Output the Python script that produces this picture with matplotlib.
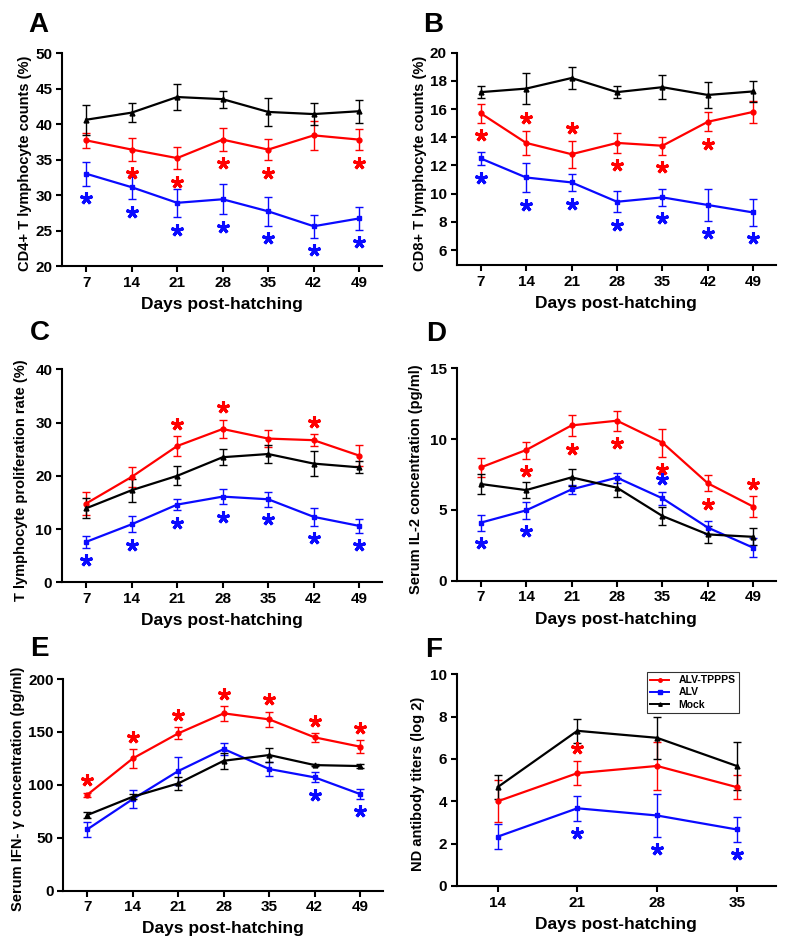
import matplotlib
matplotlib.use("Agg")
import matplotlib.pyplot as plt
from matplotlib.lines import Line2D
from matplotlib.transforms import offset_copy

plt.rcParams['font.family'] = ['Liberation Sans', 'DejaVu Sans']
plt.rcParams['font.weight'] = 'bold'
plt.rcParams['axes.labelweight'] = 'bold'

# Days post-hatching
days = [7, 14, 21, 28, 35, 42, 49]
days_f = [14, 21, 28, 35]

# A - CD4+ T lymphocyte counts (%)
a_tppps = [37.7, 36.4, 35.2, 37.8, 36.4, 38.4, 37.8]
a_tppps_err = [1.1, 1.6, 1.6, 1.6, 1.5, 2.0, 1.5]
a_alv = [33.0, 31.1, 28.9, 29.4, 27.7, 25.6, 26.7]
a_alv_err = [1.7, 1.7, 2.0, 2.1, 2.0, 1.6, 1.6]
a_mock = [40.6, 41.6, 43.8, 43.5, 41.7, 41.4, 41.8]
a_mock_err = [2.1, 1.3, 1.8, 1.2, 2.0, 1.5, 1.6]
a_tppps_star = [0, -1, -1, -1, -1, 0, -1]
a_alv_star = [-1, -1, -1, -1, -1, -1, -1]

# B - CD8+ T lymphocyte counts (%)
b_tppps = [15.7, 13.6, 12.8, 13.6, 13.4, 15.1, 15.8]
b_tppps_err = [0.67, 0.85, 0.95, 0.7, 0.65, 0.67, 0.8]
b_alv = [12.5, 11.15, 10.8, 9.43, 9.74, 9.2, 8.67]
b_alv_err = [0.47, 1.05, 0.63, 0.73, 0.6, 1.1, 0.95]
b_mock = [17.2, 17.45, 18.2, 17.2, 17.55, 17.0, 17.25]
b_mock_err = [0.45, 1.1, 0.75, 0.4, 0.85, 0.9, 0.75]
b_tppps_star = [-1, 1, 1, -1, -1, -1, 0]
b_alv_star = [-1, -1, -1, -1, -1, -1, -1]

# C - T lymphocyte proliferation rate (%)
c_tppps = [14.8, 19.8, 25.6, 28.8, 27.0, 26.7, 23.8]
c_tppps_err = [2.2, 1.9, 1.8, 1.7, 1.55, 1.1, 2.0]
c_alv = [7.6, 10.9, 14.6, 16.1, 15.6, 12.3, 10.6]
c_alv_err = [1.1, 1.5, 1.1, 1.4, 1.4, 1.7, 1.3]
c_mock = [13.9, 17.3, 20.0, 23.5, 24.1, 22.3, 21.6]
c_mock_err = [1.9, 2.2, 1.8, 1.5, 1.7, 2.3, 1.1]
c_tppps_star = [0, 0, 1, 1, 0, 1, 0]
c_alv_star = [-1, -1, -1, -1, -1, -1, -1]

# D - Serum IL-2 concentration (pg/ml)
d_tppps = [8.0, 9.23, 10.97, 11.3, 9.75, 6.88, 5.23]
d_tppps_err = [0.65, 0.6, 0.75, 0.7, 0.98, 0.57, 0.73]
d_alv = [4.1, 4.97, 6.45, 7.28, 5.82, 3.75, 2.33]
d_alv_err = [0.57, 0.6, 0.32, 0.35, 0.47, 0.47, 0.67]
d_mock = [6.83, 6.4, 7.3, 6.57, 4.57, 3.27, 3.1]
d_mock_err = [0.7, 0.55, 0.6, 0.65, 0.63, 0.62, 0.6]
d_tppps_star = [0, -1, -1, -1, -1, -1, 1]
d_alv_star = [-1, -1, 0, 0, 1, 0, 0]

# E - Serum IFN-gamma concentration (pg/ml)
e_tppps = [90.7, 125.0, 148.7, 167.6, 161.9, 144.9, 136.1]
e_tppps_err = [2.0, 8.8, 5.7, 6.9, 7.4, 4.0, 6.3]
e_alv = [58.0, 86.6, 113.1, 133.9, 115.0, 107.1, 91.3]
e_alv_err = [7.0, 8.7, 13.4, 5.5, 6.3, 4.7, 4.6]
e_mock = [71.5, 88.8, 101.4, 122.8, 128.2, 118.7, 117.8]
e_mock_err = [3.0, 2.5, 6.3, 7.4, 6.3, 1.0, 2.0]
e_tppps_star = [1, 1, 1, 1, 1, 1, 1]
e_alv_star = [0, 0, 0, 0, 0, -1, -1]

# F - ND antibody titers (log 2)
f_tppps = [4.0, 5.33, 5.67, 4.67]
f_tppps_err = [1.0, 0.58, 1.15, 0.58]
f_alv = [2.33, 3.67, 3.33, 2.67]
f_alv_err = [0.58, 0.58, 1.0, 0.58]
f_mock = [4.67, 7.33, 7.0, 5.67]
f_mock_err = [0.57, 0.58, 1.0, 1.15]
f_tppps_star = [0, 1, 0, 0]
f_alv_star = [0, -1, -1, -1]

RED = '#ff0000'
BLUE = '#0a0aff'
BLACK = '#000000'

fig = plt.figure(figsize=(7.87, 9.5), dpi=100)


def draw_panel(rect, x, tppps, tppps_err, alv, alv_err, mock, mock_err,
               tppps_star, alv_star, ylim, yticks, xlim, ylabel, letter,
               letter_pos, ylabel_x):
    ax = fig.add_axes(rect)
    series = [(tppps, tppps_err, RED, 'o'),
              (alv, alv_err, BLUE, 's'),
              (mock, mock_err, BLACK, '^')]
    for vals, errs, col, mk in series:
        ax.errorbar(x, vals, yerr=errs, color=col, marker=mk, markersize=3.5,
                    linewidth=1.6, elinewidth=1.0, capsize=3.2, capthick=1.0)

    # significance stars just past the error bar end
    for vals, errs, flags, col in [(tppps, tppps_err, tppps_star, RED),
                                   (alv, alv_err, alv_star, BLUE)]:
        for xi, v, e, s in zip(x, vals, errs, flags):
            if s == 0:
                continue
            tr = offset_copy(ax.transData, fig=fig, y=s * 9.0, units='points')
            ax.plot(xi, v + s * e, marker=(5, 2, 0), markersize=9,
                    markeredgewidth=2.2, color=col, transform=tr,
                    clip_on=False)

    ax.set_xlim(*xlim)
    ax.set_ylim(*ylim)
    ax.set_xticks(x)
    ax.set_yticks(yticks)
    ax.spines['top'].set_visible(False)
    ax.spines['right'].set_visible(False)
    ax.spines['left'].set_linewidth(1.5)
    ax.spines['bottom'].set_linewidth(1.5)
    ax.tick_params(width=1.5, length=4, labelsize=11, pad=3)
    for t in ax.get_xticklabels() + ax.get_yticklabels():
        t.set_fontweight('bold')
    ax.set_xlabel('Days post-hatching', fontsize=12.5, fontweight='bold')
    ax.xaxis.set_label_coords(0.5, -0.145)
    ax.set_ylabel(ylabel, fontsize=10.5, fontweight='bold')
    ax.yaxis.set_label_coords(ylabel_x, 0.48)
    fig.text(letter_pos[0], letter_pos[1], letter, fontsize=20,
             fontweight='bold', ha='left', va='baseline')
    return ax


xlim_main = (3.3, 52.5)

draw_panel([0.0788, 0.72, 0.4066, 0.2242], days, a_tppps, a_tppps_err,
           a_alv, a_alv_err, a_mock, a_mock_err, a_tppps_star, a_alv_star,
           (20, 50), range(20, 51, 5), xlim_main,
           'CD4+ T lymphocyte counts (%)', 'A', (0.0356, 0.9663), -0.094)

draw_panel([0.5803, 0.7211, 0.4057, 0.2235], days, b_tppps, b_tppps_err,
           b_alv, b_alv_err, b_mock, b_mock_err, b_tppps_star, b_alv_star,
           (4.95, 20), range(6, 21, 2), xlim_main,
           'CD8+ T lymphocyte counts (%)', 'B', (0.5375, 0.9663), -0.094)

draw_panel([0.0788, 0.387, 0.4066, 0.2242], days, c_tppps, c_tppps_err,
           c_alv, c_alv_err, c_mock, c_mock_err, c_tppps_star, c_alv_star,
           (0, 40), range(0, 41, 10), xlim_main,
           'T lymphocyte proliferation rate (%)', 'C', (0.038, 0.642), -0.106)

draw_panel([0.5803, 0.3887, 0.4057, 0.2236], days, d_tppps, d_tppps_err,
           d_alv, d_alv_err, d_mock, d_mock_err, d_tppps_star, d_alv_star,
           (0, 15), range(0, 16, 5), xlim_main,
           'Serum IL-2 concentration (pg/ml)', 'D', (0.542, 0.6415), -0.105)

draw_panel([0.0804, 0.0624, 0.4062, 0.2228], days, e_tppps, e_tppps_err,
           e_alv, e_alv_err, e_mock, e_mock_err, e_tppps_star, e_alv_star,
           (0, 200), range(0, 201, 50), xlim_main,
           'Serum IFN- γ concentration (pg/ml)', 'E', (0.038, 0.3095), -0.12)

ax_f = draw_panel([0.5803, 0.0674, 0.4057, 0.2228], days_f, f_tppps,
                  f_tppps_err, f_alv, f_alv_err, f_mock, f_mock_err,
                  f_tppps_star, f_alv_star, (0, 10), range(0, 11, 2),
                  (10.4, 38.45), 'ND antibody titers (log 2)', 'F',
                  (0.54, 0.3087), -0.099)

# legend with plain line + small marker handles
handles = [Line2D([], [], color=RED, marker='o', markersize=2.5, linewidth=1.4),
           Line2D([], [], color=BLUE, marker='s', markersize=2.5, linewidth=1.4),
           Line2D([], [], color=BLACK, marker='^', markersize=2.5, linewidth=1.4)]
leg = ax_f.legend(handles, ['ALV-TPPPS', 'ALV', 'Mock'], loc='upper right',
                  bbox_to_anchor=(0.884, 1.012),
                  prop={'size': 7.5, 'weight': 'bold'}, frameon=True,
                  fancybox=False, edgecolor='black', handlelength=1.8,
                  labelspacing=0.2, borderpad=0.35, handletextpad=0.9,
                  borderaxespad=0)
leg.get_frame().set_linewidth(0.8)

fig.savefig('out.png', dpi=100)
